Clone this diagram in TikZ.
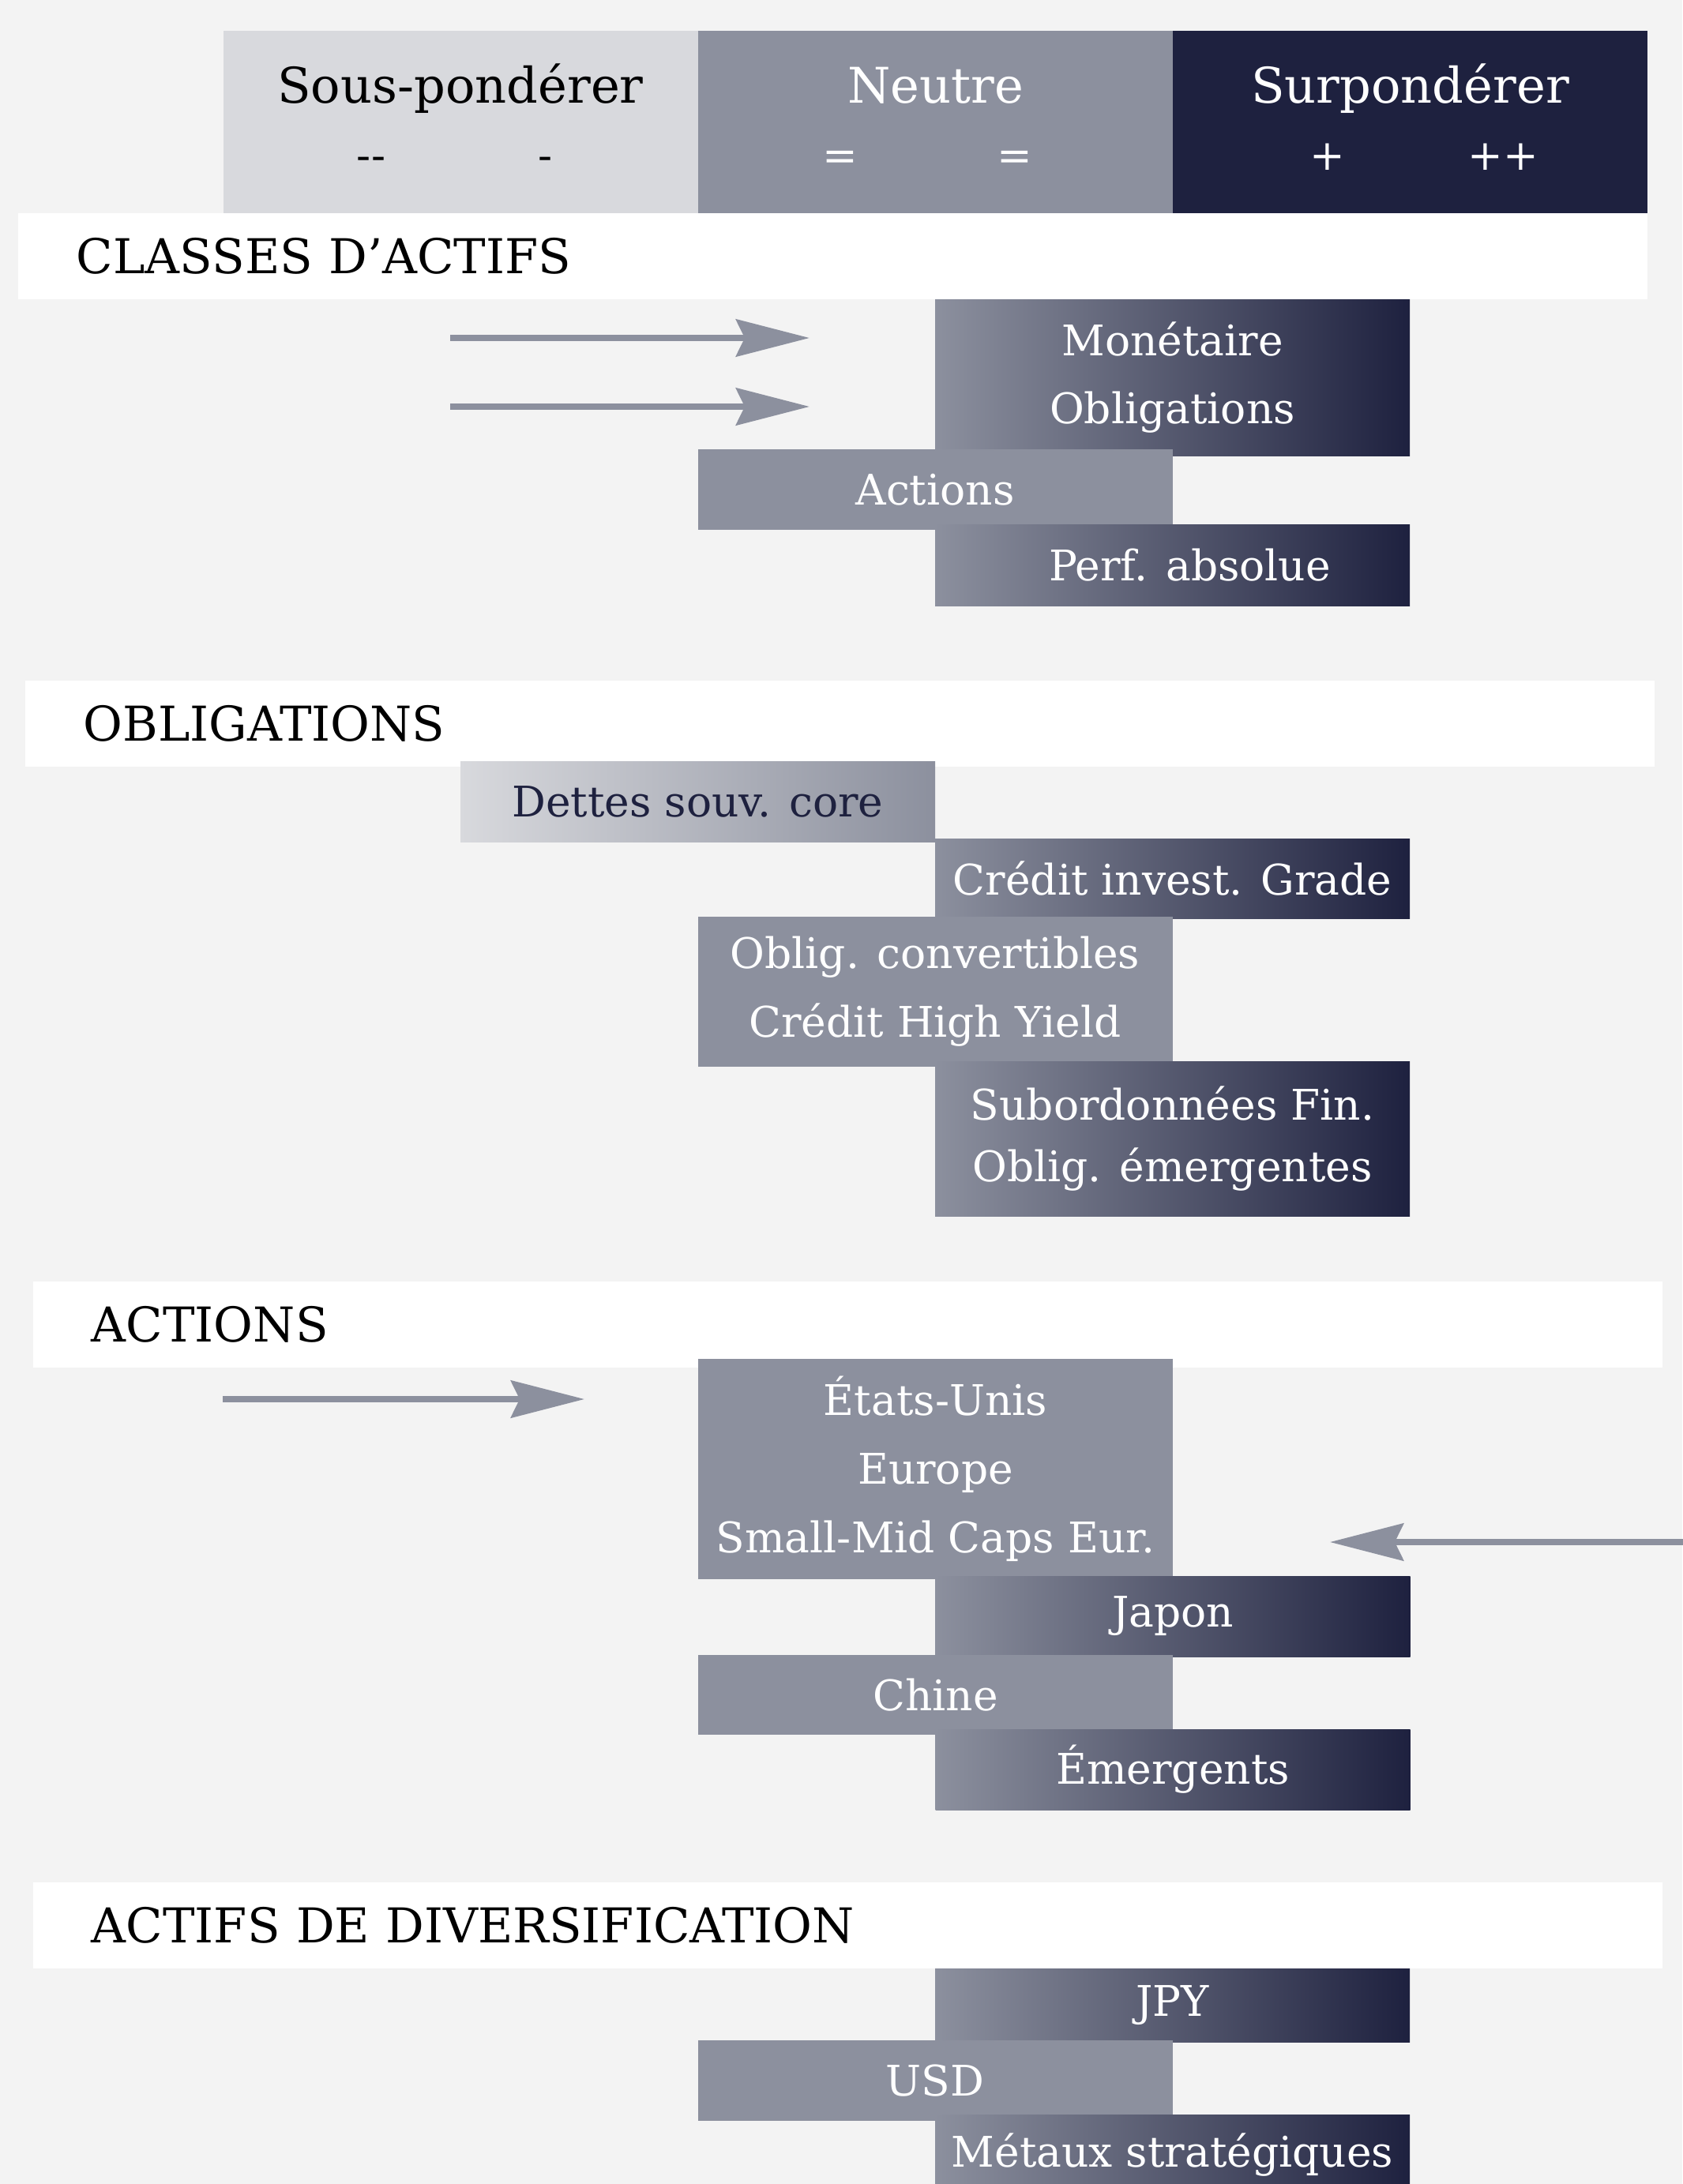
\documentclass[tikz,border=0pt]{standalone}
\usepackage{fontspec}
\setmainfont{DejaVu Serif}
\usetikzlibrary{positioning, arrows.meta}
\definecolor{my_paper}{RGB}{243, 243, 243}
\definecolor{my_light}{RGB}{216, 217, 221}
\definecolor{my_grey}{RGB}{140, 144, 158}
\definecolor{my_navy}{RGB}{30, 33, 63}
\newcommand{\titlefont}{\fontsize{17.3pt}{20pt}\selectfont}
\newcommand{\scalefont}{\fontsize{17.7pt}{20pt}\selectfont}
\newcommand{\cellfont}{\fontsize{15.2pt}{24.7pt}\selectfont}
\tikzset {
  head/.style = {rectangle, minimum width=60.1mm, minimum height=23.1mm, inner sep=0},
  headtxt/.style = {anchor=base, font=\scalefont, inner sep=0},
  signtxt/.style = {anchor=base, font=\cellfont, inner sep=0},
  band/.style = {rectangle, fill=white, minimum height=10.9mm, text width=191.5mm, inner xsep=7.4mm, inner ysep=0, align=left, font=\titlefont},
  box/.style = {rectangle, minimum width=60.1mm, minimum height=10.2mm, inner sep=0, align=center, font=\cellfont, text=white},
  upbox/.style = {box, left color=my_grey, right color=my_navy},
  flatbox/.style = {box, fill=my_grey},
  downbox/.style = {box, left color=my_light, right color=my_grey, text=my_navy},
  trend/.style = {-{Stealth[length=9.3mm, width=4.7mm, inset=1.1mm]}, line width=0.8mm, color=my_grey}
}

\begin{document}
\begin{tikzpicture}[x=1mm, y=-1mm, outer sep=0pt]
    \fill[my_paper] (0,0) rectangle (213,276.6);
    \useasboundingbox (0,0) rectangle (213,276.6);

    % scale header
    \node[head, fill=my_light] (low) at (58.3,15.45) {};
    \node[head, fill=my_grey, right=0mm of low] (mid) {};
    \node[head, fill=my_navy, right=0mm of mid] (high) {};
    \node[headtxt, text=black] (lowtxt) at (58.3,13.0) {Sous-pondérer};
    \node[headtxt, text=white] (midtxt) at (118.45,13.0) {Neutre};
    \node[headtxt, text=white] (hightxt) at (178.55,13.0) {Surpondérer};
    \node[signtxt, text=black] (s1) at (47.0,21.5) {-{}-};
    \node[signtxt, text=black] (s2) at (69.1,21.5) {-};
    \node[signtxt, text=white] (s3) at (106.4,21.5) {=};
    \node[signtxt, text=white] (s4) at (128.5,21.5) {=};
    \node[signtxt, text=white] (s5) at (168.1,21.5) {+};
    \node[signtxt, text=white] (s6) at (190.3,21.5) {++};

    % asset classes
    \node[band] (classes) at (105.45,32.45) {CLASSES D’ACTIFS};
    \node[upbox, minimum height=19.8mm] (mon) at (148.45,47.8) {Monétaire\\Obligations};
    \node[flatbox, below=-0.8mm of mon.south west] (act) {Actions};
    \node[upbox, minimum height=10.3mm, below=-0.7mm of act.south east] (perf) {\hspace*{4.4mm}Perf. absolue};

    % bonds
    \node[band] (bonds) at (106.35,91.6) {OBLIGATIONS};
    \node[downbox] (dettes) at (88.35,101.5) {Dettes souv. core};
    \node[upbox, minimum height=10.1mm, below right=-0.4mm and 0mm of dettes.south east] (credit) {Crédit invest. Grade};
    \node[flatbox, minimum height=19mm, below=-0.2mm of credit.south west] (conv) {Oblig. convertibles\\Crédit High Yield};
    \node[upbox, minimum height=19.6mm, font=\fontsize{15.2pt}{22.2pt}\selectfont, below=-0.7mm of conv.south east] (subord) {Subordonnées Fin.\\Oblig. émergentes};

    % equities
    \node[band] (equity) at (107.35,167.75) {ACTIONS};
    \node[flatbox, minimum height=27.9mm] (usa) at (118.45,186.05) {États-Unis\\Europe\\Small-Mid Caps Eur.};
    \node[upbox, below=-0.4mm of usa.south east] (japon) {Japon};
    \node[flatbox, minimum height=10.1mm, below=-0.2mm of japon.south west] (chine) {Chine};
    \node[upbox, below=-0.7mm of chine.south east] (emerg) {Émergents};

    % diversification
    \node[band] (divers) at (107.35,243.85) {ACTIFS DE DIVERSIFICATION};
    \node[upbox, minimum height=9.3mm] (jpy) at (148.45,253.95) {JPY};
    \node[flatbox, below=-0.2mm of jpy.south west] (usd) {USD};
    \node[upbox, below=-0.8mm of usd.south east] (metaux) {Métaux stratégiques};

    % moves since last month
    \coordinate (monA) at (57.0,42.8);
    \coordinate (monB) at (102.5,42.8);
    \coordinate (oblA) at (57.0,51.5);
    \coordinate (oblB) at (102.5,51.5);
    \coordinate (usaA) at (28.2,177.2);
    \coordinate (usaB) at (74.0,177.2);
    \coordinate (smidA) at (214,195.3);
    \coordinate (smidB) at (168.4,195.3);
    \draw[trend] (monA) -- (monB);
    \draw[trend] (oblA) -- (oblB);
    \draw[trend] (usaA) -- (usaB);
    \draw[trend] (smidA) -- (smidB);

\end{tikzpicture}
\end{document}
